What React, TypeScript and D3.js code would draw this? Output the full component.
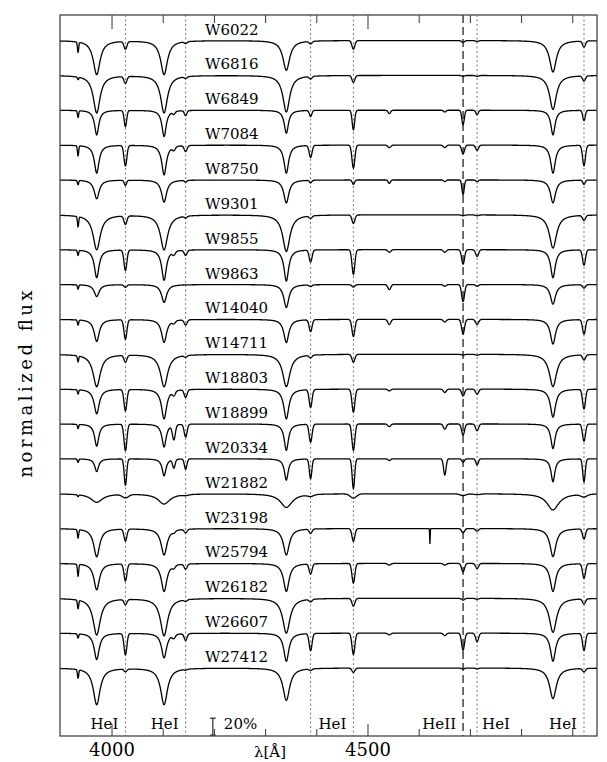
import React from "react";
import * as d3 from "d3";

// stars, top to bottom
const stars = [
  "W6022", "W6816", "W6849", "W7084", "W8750", "W9301", "W9855", "W9863",
  "W14040", "W14711", "W18803", "W18899", "W20334", "W21882", "W23198",
  "W25794", "W26182", "W26607", "W27412",
];

// absorption lines [Å] and their kind
const lineCentres = [3933.7, 3970.1, 4026.2, 4101.7, 4120.8, 4143.8, 4340.5, 4387.9, 4471.5, 4541.6, 4650.0, 4685.7, 4713.1, 4861.3, 4921.9, 4621.0];
const lineKinds = ["is", "H", "He", "H", "He", "He", "H", "He", "He", "He", "He", "He", "He", "H", "He", "spike"];

// line depths (fraction of continuum), one value per star
const depthCaK = [0.12, 0.03, 0.08, 0.12, 0.05, 0.12, 0.06, 0.05, 0.06, 0.07, 0.05, 0.05, 0.04, 0.02, 0.1, 0.14, 0.1, 0.05, 0.1];
const depthHeps = [0.4, 0.44, 0.29, 0.33, 0.22, 0.41, 0.33, 0.14, 0.26, 0.38, 0.29, 0.26, 0.15, 0.1, 0.33, 0.31, 0.43, 0.31, 0.43];
const depthHe4026 = [0.09, 0.08, 0.19, 0.24, 0.06, 0.1, 0.24, 0.03, 0.23, 0.08, 0.25, 0.31, 0.31, 0.04, 0.14, 0.2, 0.06, 0.25, 0.03];
const depthHdelta = [0.4, 0.44, 0.31, 0.35, 0.26, 0.41, 0.36, 0.21, 0.27, 0.38, 0.35, 0.27, 0.2, 0.12, 0.31, 0.33, 0.44, 0.29, 0.43];
const depthHe4121 = [0, 0, 0.03, 0.04, 0, 0, 0.04, 0, 0.03, 0, 0.05, 0.17, 0.1, 0, 0.02, 0.03, 0, 0.04, 0];
const depthHe4144 = [0.02, 0.02, 0.06, 0.07, 0.02, 0.02, 0.06, 0, 0.06, 0.02, 0.09, 0.15, 0.12, 0.01, 0.04, 0.06, 0.02, 0.08, 0.01];
const depthHgamma = [0.35, 0.43, 0.27, 0.33, 0.27, 0.43, 0.37, 0.27, 0.27, 0.38, 0.35, 0.31, 0.25, 0.16, 0.31, 0.33, 0.41, 0.33, 0.38];
const depthHe4388 = [0.03, 0.03, 0.07, 0.14, 0.03, 0.03, 0.14, 0.02, 0.14, 0.03, 0.21, 0.21, 0.23, 0.02, 0.05, 0.12, 0.03, 0.2, 0.02];
const depthHe4471 = [0.1, 0.08, 0.23, 0.27, 0.05, 0.1, 0.29, 0.03, 0.2, 0.09, 0.27, 0.31, 0.35, 0.05, 0.15, 0.23, 0.09, 0.25, 0.05];
const depthHeII4541 = [0, 0, 0.04, 0.03, 0.04, 0, 0.03, 0.06, 0.06, 0, 0.02, 0.03, 0.02, 0, 0, 0.02, 0, 0.02, 0];
const depthCIII4650 = [0, 0, 0.02, 0.03, 0.02, 0, 0.03, 0.02, 0.03, 0, 0.04, 0.06, 0.19, 0, 0, 0.02, 0, 0.03, 0];
const depthHeII4686 = [0.02, 0.01, 0.17, 0.1, 0.17, 0.01, 0.17, 0.2, 0.17, 0.01, 0.08, 0.13, 0.04, 0.02, 0.05, 0.1, 0.02, 0.2, 0.01];
const depthHe4713 = [0.01, 0.01, 0.05, 0.06, 0.02, 0.01, 0.08, 0.02, 0.06, 0.01, 0.06, 0.08, 0.07, 0.01, 0.03, 0.06, 0.01, 0.1, 0.01];
const depthHbeta = [0.37, 0.4, 0.29, 0.33, 0.27, 0.39, 0.33, 0.23, 0.29, 0.38, 0.33, 0.29, 0.27, 0.19, 0.33, 0.33, 0.4, 0.33, 0.36];
const depthHe4922 = [0.07, 0.06, 0.12, 0.24, 0.05, 0.06, 0.18, 0.04, 0.17, 0.06, 0.23, 0.2, 0.27, 0.03, 0.12, 0.17, 0.06, 0.2, 0.04];
const depthSpike = [0, 0, 0, 0, 0, 0, 0, 0, 0, 0, 0, 0, 0, 0, 0.18, 0, 0, 0, 0];

// line widths per star [Å]: Balmer half-width, helium sigma
const hWidth = [8, 8, 5, 5.5, 6, 8.5, 5.5, 6, 6, 8.5, 6, 5, 4.5, 14, 7, 6.5, 8.5, 6, 8];
const heWidth = [2.8, 2.8, 2.4, 2.8, 2.2, 2.8, 2.8, 2.8, 2.8, 2.8, 2.8, 2.8, 2.4, 6, 2.8, 2.8, 2.8, 2.8, 2.8];

const lineDepths = [
  depthCaK, depthHeps, depthHe4026, depthHdelta, depthHe4121, depthHe4144,
  depthHgamma, depthHe4388, depthHe4471, depthHeII4541, depthCIII4650,
  depthHeII4686, depthHe4713, depthHbeta, depthHe4922, depthSpike,
];

// marked helium lines
const markWaves = [4026.2, 4143.8, 4387.9, 4471.5, 4685.7, 4713.1, 4921.9];
const markDashed = [false, false, false, false, true, false, false];

// labels along the bottom
const bottomLabels = ["HeI", "HeI", "HeI", "HeII", "HeI", "HeI"];
const bottomLabelWaves = [4026.2, 4143.8, 4471.5, 4685.7, 4713.1, 4921.9];
const bottomLabelSide = ["end", "end", "end", "end", "start", "end"];

const majorTicks = [4000, 4500];
const minorTicks = [4100, 4200, 4300, 4400, 4600, 4700, 4800, 4900];

const rowStep = 0.41;
const scaleBarWave = 4197;
const scaleBarFrom = 0.21;
const scaleBarSize = 0.2;

const serif = "'DejaVu Serif', serif";

function flux(i: number, l: number) {
  let f = 1;
  lineCentres.forEach((c, k) => {
    const d = lineDepths[k][i];
    if (!d) return;
    const dl = l - c;
    const kind = lineKinds[k];
    if (kind === "H") {
      f -= d / (1 + (dl / hWidth[i]) ** 2);
    } else {
      const s = kind === "He" ? heWidth[i] : kind === "is" ? 1.2 : 0.5;
      f -= d * Math.exp(-0.5 * (dl / s) ** 2);
    }
  });
  return f;
}

export default function App() {
  const left = 60, right = 597, top = 15, bottom = 736;
  const x = d3.scaleLinear().domain([3898.4, 4947.3]).range([left, right]);
  const y = d3.scaleLinear().domain([0.2, 8.68]).range([bottom, top]);
  const grid = d3.range(3898, 4948, 0.5);
  const line = d3
    .line<[number, number]>()
    .x((d) => x(d[0]))
    .y((d) => y(d[1]));

  const n = stars.length;

  return (
    <svg
      width={607}
      height={762}
      style={{ position: "absolute", left: 0, top: 0, background: "#fff" }}
    >
      <defs>
        <clipPath id="frame">
          <rect x={left} y={top} width={right - left} height={bottom - top} />
        </clipPath>
      </defs>

      {markWaves.map((w, k) => (
        <line
          key={"m" + k}
          x1={x(w)}
          x2={x(w)}
          y1={top}
          y2={bottom}
          stroke={markDashed[k] ? "#111" : "#555"}
          strokeWidth={markDashed[k] ? 1.2 : 0.8}
          strokeDasharray={markDashed[k] ? "8,4" : "2,2.5"}
        />
      ))}

      <g clipPath="url(#frame)">
        {stars.map((name, i) => {
          const shift = (n - 1 - i) * rowStep;
          const pts = grid.map((l) => [l, flux(i, l) + shift] as [number, number]);
          return (
            <path
              key={name}
              d={line(pts) || ""}
              fill="none"
              stroke="#000"
              strokeWidth={1.3}
            />
          );
        })}
      </g>

      {stars.map((name, i) => (
        <text
          key={"t" + name}
          x={205}
          y={y(1 + (n - 1 - i) * rowStep) - 6}
          fontFamily={serif}
          fontSize={15}
        >
          {name}
        </text>
      ))}

      {bottomLabels.map((t, k) => {
        const side = bottomLabelSide[k];
        const px = x(bottomLabelWaves[k]) + (side === "end" ? -7 : 5);
        return (
          <text
            key={"b" + k}
            x={px}
            y={729}
            textAnchor={side}
            fontFamily={serif}
            fontSize={15}
          >
            {t}
          </text>
        );
      })}

      <g stroke="#000" strokeWidth={1}>
        <line
          x1={x(scaleBarWave)}
          x2={x(scaleBarWave)}
          y1={y(scaleBarFrom)}
          y2={y(scaleBarFrom + scaleBarSize)}
        />
        <line
          x1={x(scaleBarWave) - 3}
          x2={x(scaleBarWave) + 3}
          y1={y(scaleBarFrom)}
          y2={y(scaleBarFrom)}
        />
        <line
          x1={x(scaleBarWave) - 3}
          x2={x(scaleBarWave) + 3}
          y1={y(scaleBarFrom + scaleBarSize)}
          y2={y(scaleBarFrom + scaleBarSize)}
        />
      </g>
      <text x={x(scaleBarWave) + 11} y={729} fontFamily={serif} fontSize={15}>
        20%
      </text>

      <g stroke="#333" strokeWidth={1}>
        {majorTicks.map((t) => (
          <g key={"M" + t}>
            <line x1={x(t)} x2={x(t)} y1={top} y2={top + 14} />
            <line x1={x(t)} x2={x(t)} y1={bottom} y2={bottom - 12} />
          </g>
        ))}
        {minorTicks.map((t) => (
          <g key={"m" + t}>
            <line x1={x(t)} x2={x(t)} y1={top} y2={top + 8} />
            <line x1={x(t)} x2={x(t)} y1={bottom} y2={bottom - 7} />
          </g>
        ))}
      </g>

      <rect
        x={left}
        y={top}
        width={right - left}
        height={bottom - top}
        fill="none"
        stroke="#444"
        strokeWidth={1.3}
      />

      {majorTicks.map((t) => (
        <text
          key={"l" + t}
          x={x(t)}
          y={756}
          textAnchor="middle"
          fontFamily={serif}
          fontSize={18}
        >
          {t}
        </text>
      ))}
      <text x={270} y={757} textAnchor="middle" fontFamily={serif} fontSize={15}>
        λ[Å]
      </text>
      <text
        transform="translate(32,384) rotate(-90)"
        textAnchor="middle"
        fontFamily={serif}
        fontSize={18}
        textLength={187}
        lengthAdjust="spacing"
      >
        normalized flux
      </text>
    </svg>
  );
}
